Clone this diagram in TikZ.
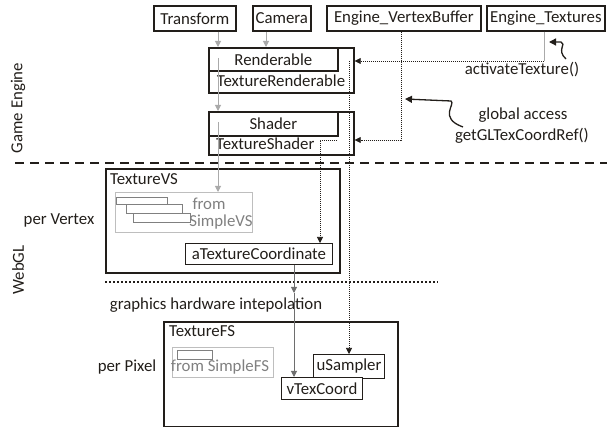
\documentclass[tikz,border=0pt]{standalone}
\usepackage{fontspec}
\setmainfont{Carlito}
\usetikzlibrary{arrows.meta,calc}
\definecolor{ink}{RGB}{34,30,26}
\definecolor{lgray}{RGB}{170,170,170}
\definecolor{mgray}{RGB}{128,128,128}
\definecolor{dgray}{RGB}{110,110,110}
\definecolor{frame}{RGB}{190,190,190}
\begin{document}
\begin{tikzpicture}[x=1pt,y=-1pt,
  every node/.style={font=\fontsize{16.8}{19}\selectfont, inner sep=0pt, text=ink},
  box/.style={draw=ink, line width=1.7pt, anchor=north west},
  thinbox/.style={draw=ink, line width=1pt, anchor=north west, fill=white},
  greybox/.style={draw=frame, line width=1pt, anchor=north west},
  minirect/.style={draw=mgray, line width=0.8pt},
  greytext/.style={text=mgray},
  tip/.style={-{Triangle[width=6pt,length=6pt]}},
  garrow/.style={tip, draw=lgray, line width=1pt},
  darrow/.style={tip, draw=dgray, line width=1pt},
  dotarrow/.style={tip, draw=ink, line width=0.7pt, dash pattern=on 1pt off 1pt},
  sqarrow/.style={-{Triangle[width=7pt,length=7pt]}, draw=ink, line width=1.3pt},
  sepdash/.style={draw=ink, line width=2pt, dash pattern=on 9pt off 6pt},
  sepdot/.style={draw=ink, line width=2pt, dash pattern=on 2pt off 2pt},
]
\useasboundingbox (0,0) rectangle (613,427);

% engine-side components
\node[box, minimum width=82pt, minimum height=25pt] (transform) at (153,5) {Transform};
\node[box, minimum width=58pt, minimum height=25pt] (camera) at (252,5) {Camera};
\node[box, minimum width=154pt, minimum height=25pt] (vbuf) at (326,5) {Engine\_VertexBuffer};
\node[box, minimum width=118pt, minimum height=25pt] (tex) at (486,5) {Engine\_Textures};

\node[box, minimum width=145pt, minimum height=45pt] (rend) at (208,47) {};
\node[box, minimum width=129pt, minimum height=23pt] (rendi) at (208,47) {Renderable};
\node (rendt) at (281,81) {TextureRenderable};

\node[box, minimum width=145pt, minimum height=43pt] (shd) at (208,111) {};
\node[box, minimum width=129pt, minimum height=24pt] (shdi) at (208,111) {Shader};
\node[anchor=west] (shdt) at (216,144) {TextureShader};

% side labels
\node[rotate=90] (ge) at (18,108) {Game Engine};
\node[rotate=90] (wgl) at (18,270) {WebGL};
\draw[sepdash] (15,163) -- (607,163);
\draw[sepdot] (105,282) -- (438,282);

% vertex shader
\node[box, minimum width=234pt, minimum height=104pt] (vs) at (105,168) {};
\node[anchor=west] (vslabel) at (110,179) {TextureVS};
\node[greybox, minimum width=137pt, minimum height=40pt] (svs) at (115,192) {};
\draw[minirect] (116,197) rectangle (167,204);
\draw[minirect] (126,204) rectangle (182,213);
\draw[minirect] (133,213) rectangle (190,222);
\node[greytext] (svs1) at (209,204) {from};
\node[greytext] (svs2) at (221,222) {SimpleVS};
\node (perv) at (59,220) {per Vertex};
\node[thinbox, minimum width=147pt, minimum height=21pt] (atc) at (185,243) {aTextureCoordinate};

\node (interp) at (216,305) {graphics hardware intepolation};

% fragment shader
\node[box, minimum width=234pt, minimum height=105pt] (fs) at (163,321) {};
\node[anchor=west] (fslabel) at (169,331) {TextureFS};
\node[greybox, minimum width=101pt, minimum height=30pt] (sfs) at (172,347) {};
\draw[minirect] (177,350) rectangle (212,359);
\node[greytext] (sfs1) at (220,367) {from SimpleFS};
\node (perp) at (127,367) {per Pixel};
\node[thinbox, minimum width=71pt, minimum height=24pt] (usam) at (313,354) {uSampler};
\node[thinbox, minimum width=81pt, minimum height=22pt] (vtex) at (281,377) {vTexCoord};

% annotations
\node (act) at (522,70) {activateTexture()};
\node (glob) at (523,115) {global access};
\node (gref) at (522,136) {getGLTexCoordRef()};

% lanes for the vertical connectors
\coordinate (l1) at (218,0);
\coordinate (l2) at (266,0);
\coordinate (rin) at (218,58);
\coordinate (sin) at (218,122);
\coordinate (tcorner) at (544,61);
\coordinate (smp) at (349,61);
\coordinate (vb) at (401,140);
\coordinate (sh1) at (337,140);
\coordinate (sh2) at (320,140);
\coordinate (ip) at (294,293);

\draw[garrow] (l1 |- transform.south) -- (l1 |- rend.north);
\draw[garrow] (l2 |- camera.south) -- (l2 |- rend.north);
\draw[garrow] (rin) -- (l1 |- shd.north);
\draw[garrow] (sin) -- (l1 |- svs.north);

\draw[draw=lgray, line width=1pt] (tcorner |- tex.south) -- (tcorner);
\draw[dotarrow] (tcorner) -- (rend.east |- tcorner);
\draw[dotarrow] (smp) -- (smp |- usam.north);

\draw[dotarrow] (vb |- vbuf.south) -- (vb) -- (shd.east |- vb);
\draw[dotarrow] (sh1) -- (sh2) -- (sh2 |- atc.north);

\draw[darrow] (ip |- atc.south) -- (ip);
\draw[darrow] (ip) -- (ip |- vtex.north);

% hand-drawn pointers
\coordinate (a1s) at (566,59);
\coordinate (a1e) at (549,42);
\draw[sqarrow] (a1s) .. controls (556,50) and (567,44) .. (561,42) -- (a1e);
\coordinate (a2s) at (463,127);
\coordinate (a2e) at (405,99);
\draw[sqarrow] (a2s) .. controls (438,118) and (456,104) .. (451,101) -- (a2e);
\end{tikzpicture}
\end{document}
